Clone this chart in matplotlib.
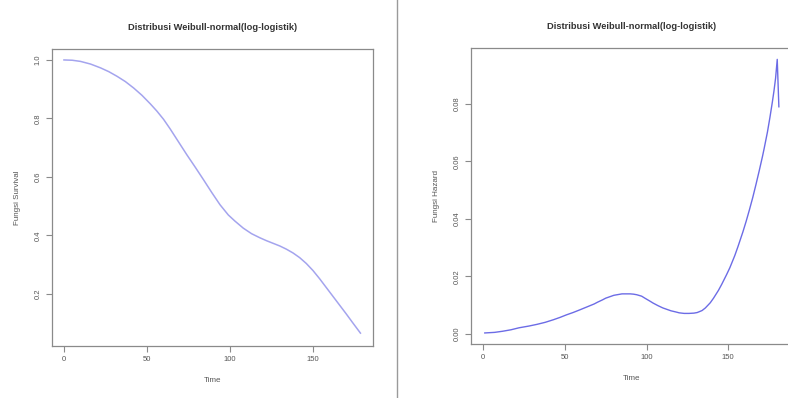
import matplotlib.pyplot as plt
from matplotlib.lines import Line2D

plt.rcParams["font.family"] = ["Liberation Sans", "DejaVu Sans"]

# data
time_surv = [0, 5, 10, 16, 22, 27, 32, 37, 42, 47, 52, 56, 60, 64, 69, 74, 79, 84, 89, 94, 99, 103, 108, 113,
             118, 122, 126, 130, 134, 138, 142, 146, 150, 154, 158, 162, 166, 170, 174, 178.6]
surv = [1.0, 0.999, 0.995, 0.986, 0.973, 0.96, 0.944, 0.926, 0.904, 0.879, 0.85, 0.825, 0.797, 0.764, 0.72,
        0.676, 0.634, 0.591, 0.547, 0.505, 0.47, 0.449, 0.425, 0.406, 0.392, 0.382, 0.373, 0.364, 0.353, 0.34,
        0.324, 0.304, 0.28, 0.252, 0.222, 0.192, 0.162, 0.132, 0.101, 0.066]

time_haz = [1, 7, 12, 17, 22, 28, 33, 38, 43, 47, 51, 55, 59, 62, 65, 68, 70, 73, 75, 78, 80, 83, 85, 88, 90,
            92, 94, 97, 99, 102, 104, 107, 110, 113, 115, 118, 120, 123, 126, 129, 131, 134, 136, 139, 141,
            144, 146, 149, 151, 154, 156, 159, 161, 163, 165, 167, 169, 171, 172, 174, 175.5, 177, 178, 179,
            180, 181]
haz = [0.0003, 0.0005, 0.0009, 0.0014, 0.0021, 0.0027, 0.0033, 0.004, 0.0049, 0.0057, 0.0066, 0.0074, 0.0083,
       0.009, 0.0097, 0.0104, 0.011, 0.0118, 0.0124, 0.013, 0.0134, 0.0137, 0.0139, 0.0139, 0.0139, 0.0138,
       0.0136, 0.0131, 0.0124, 0.0114, 0.0107, 0.0098, 0.009, 0.0084, 0.008, 0.0076, 0.0073, 0.0071, 0.0071,
       0.0072, 0.0074, 0.0081, 0.009, 0.0108, 0.0124, 0.0151, 0.0172, 0.0206, 0.023, 0.0272, 0.0304, 0.0355,
       0.0392, 0.0432, 0.0474, 0.052, 0.0568, 0.0618, 0.0645, 0.0702, 0.0752, 0.0806, 0.0845, 0.089, 0.0955,
       0.079]

title = "Distribusi Weibull-normal(log-logistik)"
xticks = [0, 50, 100, 150]


def r_style(ax):
    for s in ax.spines.values():
        s.set_color("#8a8a8a")
        s.set_linewidth(0.9)
    ax.tick_params(colors="#8a8a8a", labelcolor="#555555", labelsize=5.5, length=4, width=0.8)
    ax.set_xticks(xticks)
    for lab in ax.get_yticklabels():
        lab.set_rotation(90)
        lab.set_va("center")


fig = plt.figure(figsize=(7.88, 3.98), dpi=100)

ax1 = fig.add_axes([0.066, 0.131, 0.407, 0.746])
ax1.plot(time_surv, surv, color="#a4a4ee", lw=1.1)
ax1.set_xlim(-7.2, 186)
ax1.set_ylim(0.0224, 1.0376)
ax1.set_yticks([0.2, 0.4, 0.6, 0.8, 1.0])
ax1.set_yticklabels(["0.2", "0.4", "0.6", "0.8", "1.0"])
r_style(ax1)
ax1.set_title(title, fontsize=6.7, fontweight="bold", color="#333333", pad=14)
ax1.set_xlabel("Time", fontsize=5.8, color="#555555", labelpad=10)
ax1.set_ylabel("Fungsi Survival", fontsize=5.8, color="#555555", labelpad=10)

ax2 = fig.add_axes([0.598, 0.136, 0.407, 0.743])
ax2.plot(time_haz, haz, color="#6c6ce6", lw=1.0)
ax2.set_xlim(-7.3, 189)
ax2.set_ylim(-0.0035, 0.0994)
ax2.set_yticks([0.0, 0.02, 0.04, 0.06, 0.08])
ax2.set_yticklabels(["0.00", "0.02", "0.04", "0.06", "0.08"])
r_style(ax2)
ax2.set_title(title, fontsize=6.7, fontweight="bold", color="#333333", pad=14)
ax2.set_xlabel("Time", fontsize=5.8, color="#555555", labelpad=10)
ax2.set_ylabel("Fungsi Hazard", fontsize=5.8, color="#555555", labelpad=10)

# separator between the two panels
fig.add_artist(Line2D([397 / 788, 397 / 788], [0, 1], color="#9a9a9a", lw=1.0))

fig.savefig("out.png", dpi=100)
